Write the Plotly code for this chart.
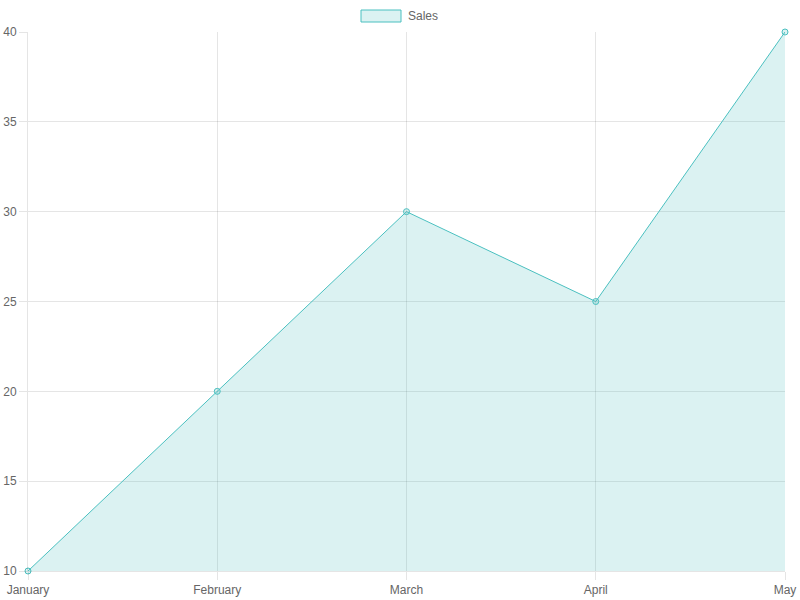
import plotly.graph_objects as go

months = ["January", "February", "March", "April", "May"]
sales = [10, 20, 30, 25, 40]

line_color = "rgb(75,192,192)"
fill_color = "rgba(75,192,192,0.2)"
grid = "rgba(0,0,0,0.1)"
font = dict(family="Liberation Sans, Arial, sans-serif", size=12, color="#666")

fig = go.Figure()
fig.add_trace(go.Scatter(
    x=months, y=sales, name="Sales", mode="lines+markers",
    line=dict(color=line_color, width=1),
    fill="tozeroy", fillcolor=fill_color,
    marker=dict(size=6, color=fill_color, line=dict(color=line_color, width=1)),
    showlegend=False, cliponaxis=False,
))

# chart.js style legend box (plot area spans 757 x 539 px)
fig.add_shape(type="rect", xref="paper", yref="paper",
              x0=(361 - 28) / 757, x1=(401 - 28) / 757,
              y0=1 + (32 - 22) / 539, y1=1 + (32 - 10) / 539,
              fillcolor=fill_color, line=dict(color=line_color, width=1))
fig.add_annotation(text="Sales", xref="paper", yref="paper",
                   x=(406 - 28) / 757, y=1 + (32 - 16) / 539,
                   xanchor="left", yanchor="middle", showarrow=False, font=font)

fig.update_layout(
    width=800, height=600,
    margin=dict(l=28, r=15, t=32, b=29, autoexpand=False),
    paper_bgcolor="white", plot_bgcolor="white",
    font=font,
)
fig.update_xaxes(
    range=[0, 4], showgrid=True, gridcolor=grid, gridwidth=1,
    showline=True, linecolor=grid, mirror=False, automargin=False,
    ticks="outside", ticklen=8, tickcolor=grid, zeroline=False,
)
fig.update_yaxes(
    range=[10, 40], dtick=5, showgrid=True, gridcolor=grid, gridwidth=1,
    showline=True, linecolor=grid, automargin=False,
    ticks="outside", ticklen=8, tickcolor=grid, zeroline=False,
)

# drop the default 8px body margin so the figure sits at the window corner
fig.write_html("out.html", config={"displayModeBar": False},
               post_script="document.body.style.margin='0';")
